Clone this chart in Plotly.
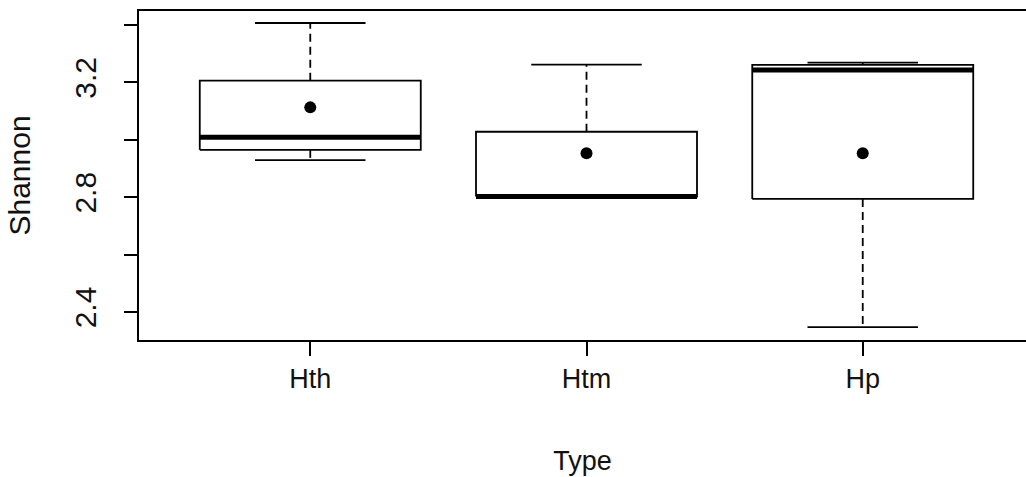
import plotly.graph_objects as go

# ---- data ----
categories = ["Hth", "Htm", "Hp"]
q1_vals = [2.965, 2.802, 2.794]
median_vals = [3.009, 2.802, 3.243]
q3_vals = [3.206, 3.028, 3.261]
lower_whisker = [2.929, 2.802, 2.347]
upper_whisker = [3.407, 3.262, 3.269]
mean_vals = [3.113, 2.953, 2.953]

y_tick_vals = [2.4, 2.6, 2.8, 3.0, 3.2, 3.4]
y_tick_text = ["2.4", "", "2.8", "", "3.2", ""]

FONT = "Liberation Sans, Arial, sans-serif"
BOX_HALF = 0.4
CAP_HALF = 0.2
LW = 1.8

fig = go.Figure()
positions = list(range(1, len(categories) + 1))

for i, pos in enumerate(positions):
    # box body
    fig.add_trace(go.Scatter(
        x=[pos - BOX_HALF, pos + BOX_HALF, pos + BOX_HALF, pos - BOX_HALF, pos - BOX_HALF],
        y=[q1_vals[i], q1_vals[i], q3_vals[i], q3_vals[i], q1_vals[i]],
        mode="lines", fill="toself", fillcolor="white",
        line=dict(color="black", width=LW), hoverinfo="skip", showlegend=False))
    # whiskers (dashed)
    fig.add_trace(go.Scatter(
        x=[pos, pos, None, pos, pos],
        y=[q3_vals[i], upper_whisker[i], None, q1_vals[i], lower_whisker[i]],
        mode="lines", line=dict(color="black", width=LW, dash="8px,5px"),
        hoverinfo="skip", showlegend=False))
    # whisker caps
    fig.add_trace(go.Scatter(
        x=[pos - CAP_HALF, pos + CAP_HALF, None, pos - CAP_HALF, pos + CAP_HALF],
        y=[upper_whisker[i], upper_whisker[i], None, lower_whisker[i], lower_whisker[i]],
        mode="lines", line=dict(color="black", width=LW),
        hoverinfo="skip", showlegend=False))
    # median
    fig.add_trace(go.Scatter(
        x=[pos - BOX_HALF, pos + BOX_HALF],
        y=[median_vals[i], median_vals[i]],
        mode="lines", line=dict(color="black", width=5),
        hoverinfo="skip", showlegend=False))

# means
fig.add_trace(go.Scatter(
    x=positions, y=mean_vals, mode="markers",
    marker=dict(color="black", size=12, symbol="circle"),
    showlegend=False, name="mean"))

fig.update_layout(
    width=1026, height=477,
    margin=dict(l=139, r=0, t=11, b=137),
    paper_bgcolor="white", plot_bgcolor="white",
    font=dict(family=FONT, size=27, color="#111111"),
    showlegend=False,
)
fig.update_xaxes(
    range=[0.38, 3.591],
    tickvals=positions, ticktext=categories,
    tickfont=dict(size=27),
    showline=True, linecolor="black", linewidth=LW, mirror=True,
    ticks="outside", ticklen=14, tickwidth=LW, tickcolor="black",
    showgrid=False, zeroline=False,
    title=dict(text="Type", standoff=58, font=dict(size=27)),
)
fig.update_yaxes(
    range=[2.3024, 3.4488],
    tickvals=y_tick_vals, ticktext=y_tick_text, tickangle=-90,
    tickfont=dict(size=30), ticklabelstandoff=16,
    showline=True, linecolor="black", linewidth=LW, mirror=False,
    ticks="outside", ticklen=13, tickwidth=LW, tickcolor="black",
    showgrid=False, zeroline=False,
    title=dict(text="Shannon", standoff=30, font=dict(size=30)),
)

# remove the default page margin so the figure fills the window exactly
fig.write_html(
    "out.html",
    config={"displayModeBar": False},
    post_script="document.body.style.margin='0';document.body.style.overflow='hidden';",
)
